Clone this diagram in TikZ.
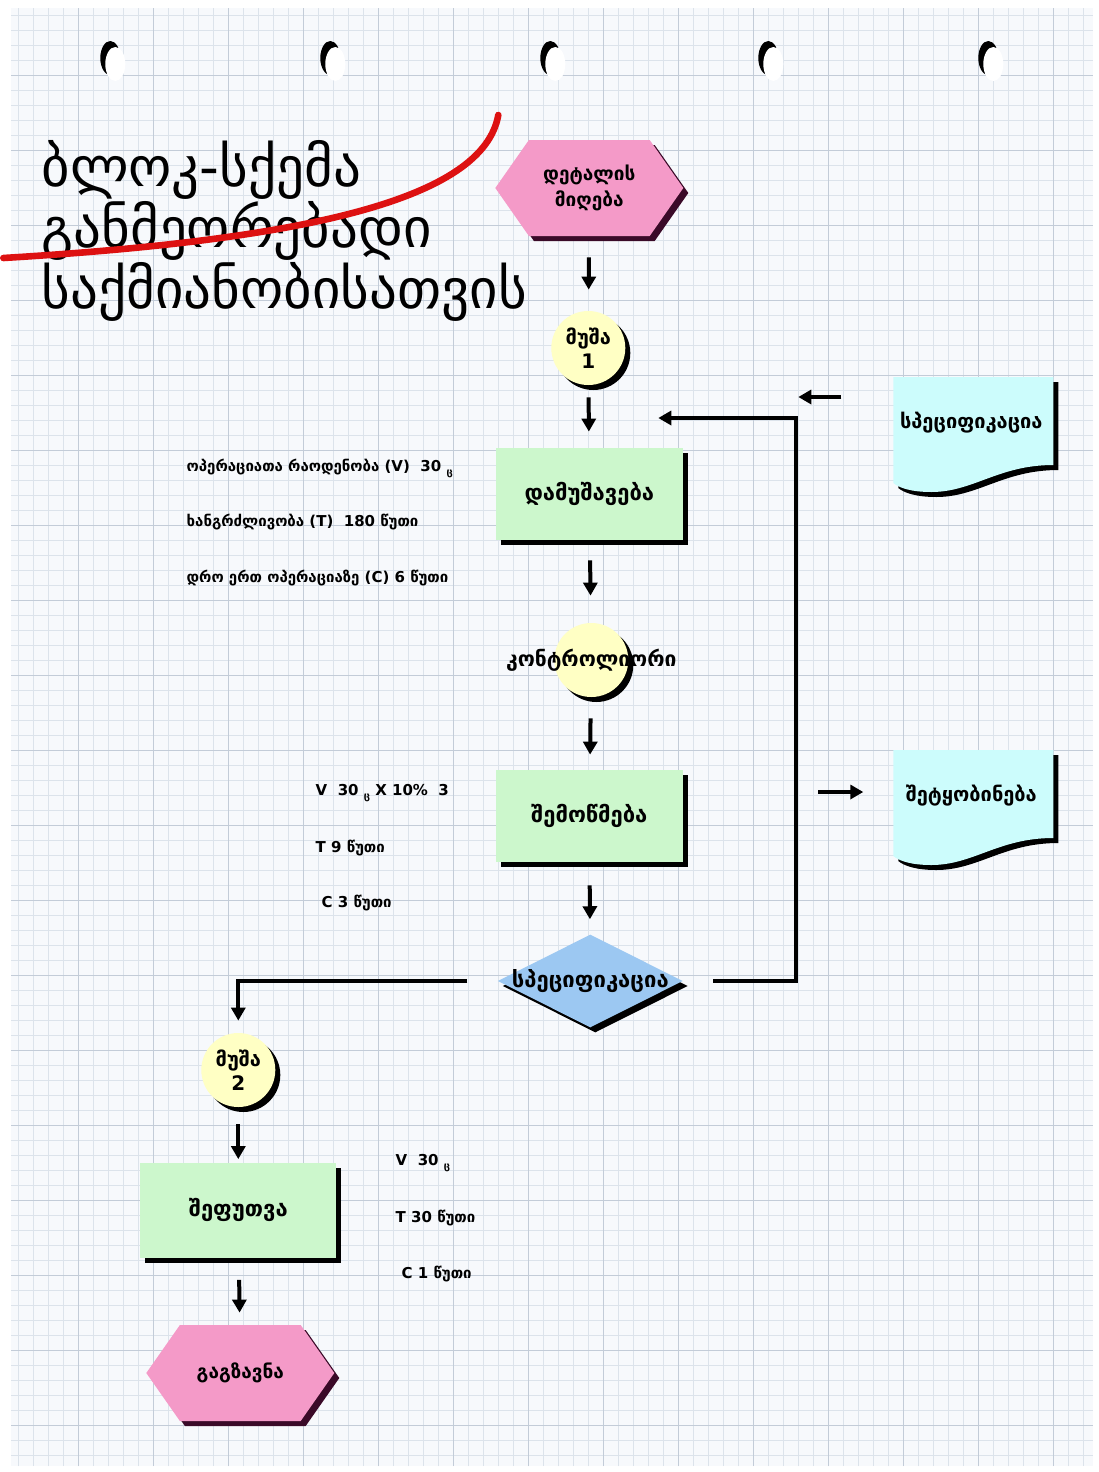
\documentclass[tikz,border=0pt]{standalone}
\usepackage{fontspec}
\setmainfont{DejaVu Sans}
\usetikzlibrary{shapes,arrows.meta,positioning,shadows,calc}

\definecolor{paper}{HTML}{F7F9FC}
\definecolor{gridminor}{HTML}{DCE3EB}
\definecolor{gridmajor}{HTML}{C3CCD8}
\definecolor{hexpink}{HTML}{F49AC8}
\definecolor{hexdark}{HTML}{3A0A28}
\definecolor{workyellow}{HTML}{FFFFC4}
\definecolor{procgreen}{HTML}{CCF7CC}
\definecolor{decblue}{HTML}{9CC8F2}
\definecolor{doccyan}{HTML}{CCFCFC}
\definecolor{penred}{HTML}{DD1111}

% document shape: #1 name, #2/#3 top left corner, #4 text
\newcommand{\docbox}[4]{%
  \foreach \dd/\cc in {5/black,0/doccyan}{
    \fill[\cc, shift={(#2+\dd,#3+\dd)}] (0,0) -- (160,0) -- (160,88)
      .. controls (105,88) and (80,115) .. (38,115)
      .. controls (18,115) and (6,111) .. (0,106) -- cycle;}
  \node[doctext] (#1) at (#2+78,#3+46) {#4};}

\begin{document}
\begin{tikzpicture}[x=0.5pt,y=-0.5pt,
    shade/.style={drop shadow={shadow xshift=2.5pt, shadow yshift=-2.5pt, fill=black, opacity=1}},
    hexa/.style={signal, signal to=east and west, signal pointer angle=110, fill=hexpink,
      minimum width=94pt, minimum height=48pt, inner sep=0pt, align=center,
      font=\bfseries\fontsize{9.5}{13}\selectfont,
      drop shadow={shadow xshift=2.5pt, shadow yshift=-2.5pt, fill=hexdark, opacity=1}},
    worker/.style={circle, fill=workyellow, minimum size=37pt, inner sep=0pt, align=center,
      font=\bfseries\fontsize{10}{12}\selectfont, shade},
    proc/.style={rectangle, fill=procgreen, minimum width=93.5pt, minimum height=46pt,
      font=\bfseries\fontsize{11}{13}\selectfont, shade},
    decide/.style={diamond, fill=decblue, minimum width=92.5pt, minimum height=46.5pt,
      inner sep=0pt, font=\bfseries\fontsize{11}{13}\selectfont, shade},
    doctext/.style={font=\bfseries\fontsize{10}{12}\selectfont},
    note/.style={anchor=west, inner sep=0pt, font=\bfseries\fontsize{7.5}{9}\selectfont},
    arrow/.style={-{Triangle[length=6.5pt,width=7pt]}, line width=2pt},
    loop/.style={-{Triangle[length=6.5pt,width=7pt]}, line width=2pt}
]
    % graph paper
    \fill[white] (0,0) rectangle (1095,1472);
    \fill[paper] (8,8) rectangle (1090,1466);
    \draw[gridminor, step=7.5pt, line width=0.4pt] (8,8) grid (1090,1466);
    \draw[gridmajor, step=37.5pt, line width=0.5pt] (8,8) grid (1090,1466);
    \foreach \hx in {110,330,550,768,988}{
      \fill[black] (\hx-3,58) ellipse [x radius=5pt, y radius=8.5pt];
      \fill[white] (\hx+2,64) ellipse [x radius=5pt, y radius=8.5pt];}

    % title
    \node[anchor=north west, inner sep=0pt, align=left, font=\fontsize{27.5}{28}\selectfont]
      (title) at (38,140) {ბლოკ-სქემა\\განმეორებადი\\საქმიანობისათვის};
    \draw[penred, line width=3.3pt, line cap=round] (0,258) .. controls (300,240) and (480,200) .. (495,115);

    % main column
    \node[hexa] (recv) at (586,188) {დეტალის\\მიღება};
    \node[worker] (w1) at (585,348) {მუშა\\1};
    \node[proc] (work) at (586,494) {დამუშავება};
    \node[worker] (ctrl) at (588,660) {\makebox[0pt]{\fontsize{10.5}{13}\selectfont კონტროლიორი}};
    \node[proc] (check) at (586,816) {შემოწმება};
    \node[decide] (spec) at (587,981) {\makebox[0pt]{სპეციფიკაცია}};
    \node[worker] (w2) at (235,1070) {მუშა\\2};
    \node[proc, minimum width=98pt, minimum height=47.5pt] (pack) at (235,1210) {შეფუთვა};
    \node[hexa] (send) at (237,1373) {გაგზავნა};

    % documents
    \docbox{specdoc}{890}{377}{სპეციფიკაცია}
    \docbox{msgdoc}{890}{750}{შეტყობინება}

    % notes
    \node[note] (n11) at (183,468) {ოპერაციათა რაოდენობა (V) \ 30 \raisebox{-2pt}{\tiny ც}};
    \node[note] (n12) at (183,522) {ხანგრძლივობა (T) \ 180 წუთი};
    \node[note] (n13) at (183,578) {დრო ერთ ოპერაციაზე (C) 6 წუთი};
    \node[note] (n21) at (312,793) {V \ 30 \raisebox{-2pt}{\tiny ც} X 10\% \ 3};
    \node[note] (n22) at (312,848) {T 9 წუთი};
    \node[note] (n23) at (318,903) {C 3 წუთი};
    \node[note] (n31) at (392,1163) {V \ 30 \raisebox{-2pt}{\tiny ც}};
    \node[note] (n32) at (392,1218) {T 30 წუთი};
    \node[note] (n33) at (398,1274) {C 1 წუთი};

    % connectors
    \draw[arrow, shorten <=10.5pt, shorten >=10.5pt] (recv) -- (w1);
    \draw[arrow, shorten <=6pt, shorten >=8pt] (w1) -- (work);
    \draw[arrow, shorten <=10pt, shorten >=13.5pt] (work) -- (ctrl);
    \draw[arrow, shorten <=10.5pt, shorten >=7.5pt] (ctrl) -- (check);
    \draw[arrow, shorten <=11.5pt, shorten >=7.5pt] (check) -- (spec);
    \draw[arrow, shorten <=8.5pt, shorten >=1.5pt] (w2) -- (pack);
    \draw[arrow, shorten <=11pt, shorten >=6pt] (pack) -- (send);
    \coordinate (backin) at (655,418);
    \draw[loop] ([xshift=15pt]spec.east) -- ++(83,0) |- (backin);
    \draw[loop] ([xshift=-15pt]spec.west) -| ([yshift=6pt]w2.north);
    \coordinate (specfrom) at (838,397);
    \coordinate (specto) at (795,397);
    \draw[loop] (specfrom) -- (specto);
    \coordinate (msgfrom) at (815,792);
    \coordinate (msgto) at (860,792);
    \draw[loop] (msgfrom) -- (msgto);
\end{tikzpicture}
\end{document}
